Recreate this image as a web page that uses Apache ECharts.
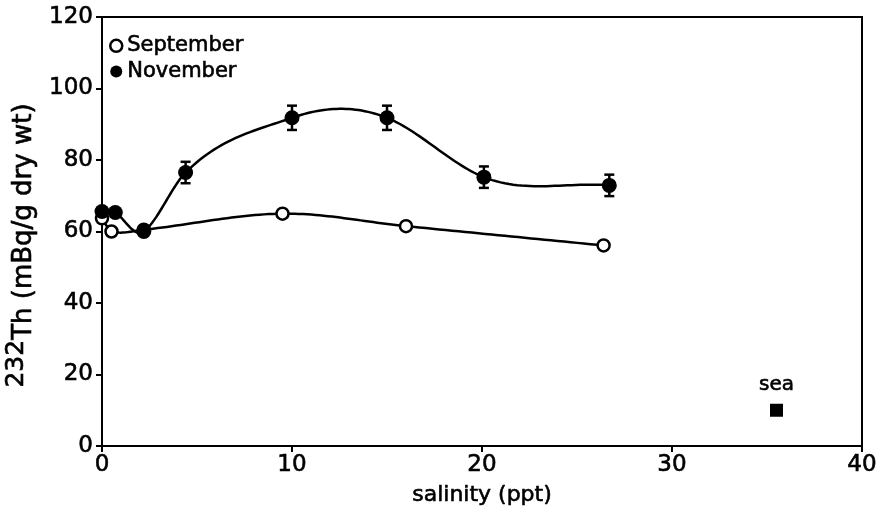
<!DOCTYPE html>
<html>
<head>
<meta charset="utf-8">
<script src="https://cdn.jsdelivr.net/npm/echarts@6/dist/echarts.min.js"></script>
<style>html,body{margin:0;padding:0;background:#fff;}#c{width:880px;height:515px;}</style>
</head>
<body>
<div id="c"></div>
<script>
// Data
var sepX = [0, 0.5, 2.2, 9.5, 16.0, 26.4];
var sepY = [63.7, 60.0, 60.5, 65.0, 61.5, 56.1];
var novX = [0, 0.7, 2.2, 4.4, 10.0, 15.0, 20.1, 26.7];
var novY = [65.6, 65.3, 60.0, 76.5, 91.8, 91.8, 75.2, 72.9];
var novErr = [0, 0, 0, 3.0, 3.4, 3.4, 3.0, 3.0];
var seaX = [35.5];
var seaY = [10.0];
var xTicks = [0, 10, 20, 30, 40];
var yTicks = [0, 20, 40, 60, 80, 100, 120];

function pairs(xs, ys) { return xs.map(function (x, i) { return [x, ys[i]]; }); }
var errData = novX.map(function (x, i) { return [x, novY[i], novErr[i]]; }).filter(function (d) { return d[2] > 0; });

// Smooth curve (cubic Hermite in data space) drawn through the axes' scales
function slopes(xs, ys, k) {
  var n = xs.length, m = [];
  for (var i = 0; i < n; i++) {
    var a = Math.max(0, i - 1), b = Math.min(n - 1, i + 1);
    m.push(k * (ys[b] - ys[a]) / (xs[b] - xs[a]));
  }
  return m;
}
function curveRenderer(xs, ys, k) {
  var m = slopes(xs, ys, k);
  return function (params, api) {
    var i = params.dataIndex;
    if (i >= xs.length - 1) return null;
    var x0 = xs[i], x1 = xs[i + 1], y0 = ys[i], y1 = ys[i + 1], h = x1 - x0;
    var pts = [];
    var N = 30;
    for (var j = 0; j <= N; j++) {
      var t = j / N, t2 = t * t, t3 = t2 * t;
      var y = (2 * t3 - 3 * t2 + 1) * y0 + (t3 - 2 * t2 + t) * h * m[i] + (-2 * t3 + 3 * t2) * y1 + (t3 - t2) * h * m[i + 1];
      pts.push(api.coord([x0 + t * h, y]));
    }
    return { type: 'polyline', shape: { points: pts }, style: { stroke: '#000', lineWidth: 2.5, fill: null } };
  };
}

var FONT = 'DejaVu Sans';
function ts(size, extra) {
  var o = { fontFamily: FONT, fontSize: size, color: '#000', textBorderColor: '#000', textBorderWidth: 0.6 };
  for (var k in (extra || {})) o[k] = extra[k];
  return o;
}
var chart = echarts.init(document.getElementById('c'), null, { renderer: 'canvas' });
chart.setOption({
  animation: false,
  backgroundColor: '#fff',
  textStyle: { fontFamily: FONT, color: '#000' },
  grid: { left: 102, right: 18, top: 17, bottom: 69, containLabel: false, outerBoundsMode: 'none',
    show: true, borderColor: '#000', borderWidth: 2, backgroundColor: 'transparent' },
  legend: {
    left: 104, top: 30, orient: 'vertical', itemGap: 4, itemWidth: 12, itemHeight: 12,
    textStyle: ts(21),
    data: [
      { name: 'September', icon: 'circle', itemStyle: { color: '#fff', borderColor: '#000', borderWidth: 2.5, opacity: 1 } },
      { name: 'November', icon: 'circle', itemStyle: { color: '#000', opacity: 1 } }
    ]
  },
  xAxis: {
    type: 'value', min: xTicks[0], max: xTicks[xTicks.length - 1], interval: 10,
    name: 'salinity (ppt)', nameLocation: 'middle', nameGap: 38,
    nameTextStyle: ts(22),
    axisLine: { show: true, lineStyle: { color: '#000', width: 2 } },
    axisTick: { show: true, inside: false, length: 6, lineStyle: { color: '#000', width: 2 } },
    axisLabel: ts(23, { margin: 8 }),
    splitLine: { show: false }
  },
  yAxis: {
    type: 'value', min: yTicks[0], max: yTicks[yTicks.length - 1], interval: 20,
    name: '{sup|232}{m|Th (mBq/g dry wt)}', nameLocation: 'middle', nameGap: 48,
    nameTextStyle: ts(26, {
      padding: [0, 28, 0, 0],
      rich: {
        sup: ts(25, { verticalAlign: 'top', lineHeight: 26 }),
        m: ts(26, { verticalAlign: 'bottom', lineHeight: 34 })
      } }),
    axisLine: { show: true, lineStyle: { color: '#000', width: 2 } },
    axisTick: { show: true, inside: false, length: 6, lineStyle: { color: '#000', width: 2 } },
    axisLabel: ts(23, { margin: 9 }),
    splitLine: { show: false }
  },
  series: [
    { name: 'sepCurve', type: 'custom', data: pairs(sepX, sepY), renderItem: curveRenderer(sepX, sepY, 1.0), z: 2, silent: true },
    { name: 'novCurve', type: 'custom', data: pairs(novX, novY), renderItem: curveRenderer(novX, novY, 1.3), z: 2, silent: true },
    {
      name: 'September', type: 'scatter', data: pairs(sepX, sepY),
      symbol: 'circle', symbolSize: 12,
      itemStyle: { color: '#fff', borderColor: '#000', borderWidth: 2.5, opacity: 1 }, z: 3
    },
    {
      name: 'November', type: 'scatter', data: pairs(novX, novY),
      symbol: 'circle', symbolSize: 15,
      itemStyle: { color: '#000', opacity: 1 }, z: 4
    },
    {
      name: 'err', type: 'custom', data: errData, z: 5,
      renderItem: function (params, api) {
        var x = api.value(0), y = api.value(1), e = api.value(2);
        var top = api.coord([x, y + e]), bot = api.coord([x, y - e]);
        var w = 5;
        var st = { stroke: '#000', lineWidth: 2.5 };
        return { type: 'group', children: [
          { type: 'line', shape: { x1: top[0], y1: top[1], x2: bot[0], y2: bot[1] }, style: st },
          { type: 'line', shape: { x1: top[0] - w, y1: top[1], x2: top[0] + w, y2: top[1] }, style: st },
          { type: 'line', shape: { x1: bot[0] - w, y1: bot[1], x2: bot[0] + w, y2: bot[1] }, style: st }
        ] };
      }
    },
    {
      name: 'sea', type: 'scatter', data: pairs(seaX, seaY),
      symbol: 'rect', symbolSize: 13, itemStyle: { color: '#000', opacity: 1 },
      label: Object.assign({ show: true, position: 'top', distance: 9, formatter: 'sea' }, ts(20))
    }
  ]
});
</script>
</body>
</html>
